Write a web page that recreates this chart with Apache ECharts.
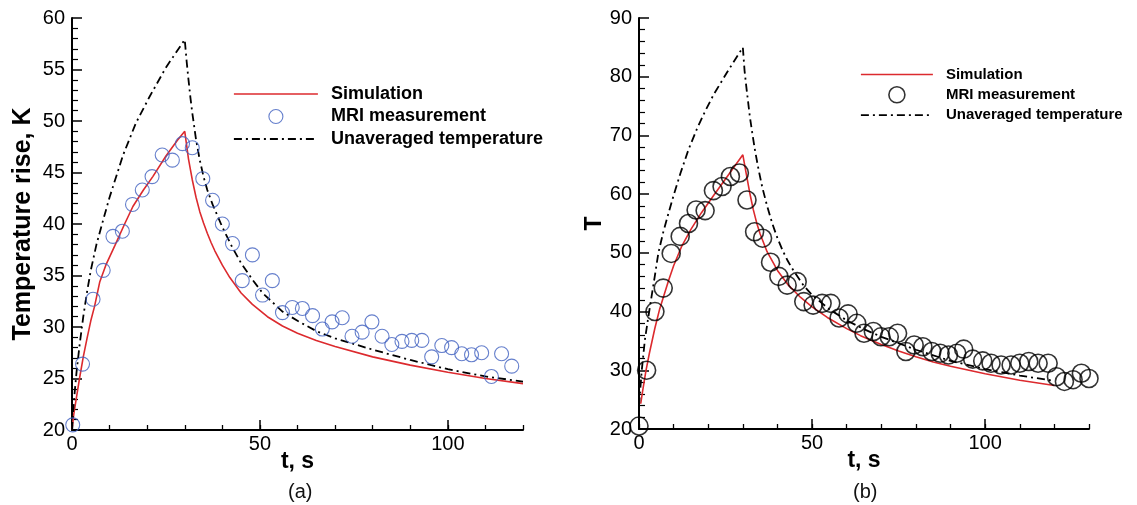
<!DOCTYPE html>
<html>
<head>
<meta charset="utf-8">
<script src="https://cdn.jsdelivr.net/npm/echarts@6/dist/echarts.min.js"></script>
<style>
  html, body { margin: 0; padding: 0; background: #fff; }
  #chart { width: 1137px; height: 505px; }
</style>
</head>
<body>
<div id="chart"></div>
<script>
// ---- Panel (a): temperature rise, K ----
const simulationA = [
  [0, 20], [0.5, 21.6], [1.2, 23.2], [2, 25], [3, 27.1], [4, 28.9], [5, 30.6], [6, 32], [7.4, 34.4],
  [9, 36], [11.4, 37.9], [14, 40], [16.2, 41.7], [19, 43.3], [21.5, 44.6], [25, 46.6], [28, 48.1], [30, 49],
  [31, 46.3], [32, 44.3], [33, 42.6], [34, 41.2], [35, 40.1], [36, 39.1], [37, 38.2], [38, 37.4], [40, 36.0],
  [42, 34.8], [45, 33.3], [48, 32.2], [52, 31.0], [56, 30.1], [60, 29.4], [65, 28.7], [70, 28.1], [80, 27.1],
  [90, 26.3], [100, 25.6], [110, 25.0], [120, 24.5]
];
const unaveragedA = [
  [0, 20], [0.3, 21.8], [0.7, 23.6], [1.2, 25.6], [2, 28.2], [3, 31], [4, 33.4], [5, 35.5], [6.5, 38],
  [8, 40], [10, 42.6], [13.6, 46.7], [17, 49.8], [20.7, 52.4], [25, 55.2], [30, 57.9],
  [30.5, 55.8], [31, 54], [31.5, 52.3], [32, 50.8], [33, 48.2], [34, 46.2], [35, 44.6], [36, 43.3],
  [37.4, 41.9], [40, 39.7], [42.7, 37.7], [45, 36.2], [48, 34.6], [50.7, 33.3], [56, 31.5], [60, 30.6],
  [65, 29.6], [70, 28.9], [80, 27.8], [90, 26.8], [100, 25.9], [110, 25.2], [120, 24.7]
];
const mriA = [
  [0.2, 20.5], [2.8, 26.4], [5.6, 32.7], [8.3, 35.5], [10.9, 38.8], [13.4, 39.3], [16.1, 41.9], [18.7, 43.3],
  [21.3, 44.6], [24.0, 46.7], [26.7, 46.2], [29.4, 47.8], [32.0, 47.4], [34.8, 44.4], [37.4, 42.3], [40.0, 40.0],
  [42.7, 38.1], [45.3, 34.5], [48.0, 37.0], [50.7, 33.1], [53.3, 34.5], [56.0, 31.4], [58.6, 31.9], [61.3, 31.8],
  [64.0, 31.1], [66.6, 29.8], [69.2, 30.5], [71.9, 30.9], [74.5, 29.1], [77.2, 29.5], [79.8, 30.5], [82.5, 29.1],
  [85.1, 28.3], [87.8, 28.6], [90.4, 28.7], [93.1, 28.7], [95.7, 27.1], [98.4, 28.2], [101.0, 28.0], [103.7, 27.4],
  [106.3, 27.3], [109.0, 27.5], [111.6, 25.2], [114.3, 27.4], [117.0, 26.2]
];

// ---- Panel (b): T ----
const simulationB = [
  [0.5, 24.3], [1, 26.3], [2, 29.9], [3, 32.9], [4.6, 37.2], [6, 40.5], [8.5, 45.2], [10, 47.8], [12.4, 51.2],
  [15, 54], [18, 56.8], [21.6, 59.8], [25.5, 63], [30, 66.7],
  [31, 63.4], [32, 60.2], [33, 57.4], [34, 55.1], [35, 53.2], [37, 50.2], [40, 47.0], [43, 44.6], [46.7, 42.4],
  [50, 40.8], [54.4, 39], [60, 37.1], [64, 35.9], [70, 34.4], [75, 33.3], [80, 32.3], [85, 31.4], [90, 30.7],
  [100, 29.4], [110, 28.3], [120, 27.4]
];
const unaveragedB = [
  [0, 24], [0.4, 27], [0.8, 30], [1.7, 35.2], [3.2, 41], [4.5, 45.8], [5.6, 50], [7, 53.5], [8.5, 56.7],
  [10, 59.8], [12, 63.6], [14.3, 67.6], [16.8, 71.2], [19, 74], [21.6, 77], [25.5, 80.8], [30, 85],
  [30.5, 81], [31, 78.3], [31.5, 75.8], [32, 73.3], [32.7, 70.5], [33.5, 67.5], [34.5, 64.3], [35.6, 61.2],
  [37, 58], [38.5, 55], [40, 52.5], [41.5, 50.4], [43, 48.6], [44.7, 46.9], [47.6, 44.4], [50, 42.8],
  [55, 40.4], [60, 38.5], [65, 37], [70, 35.7], [80, 33.5], [90, 31.6], [100, 30.2], [110, 29.1], [120, 28.2]
];
const mriB = [
  [0, 20.5], [2.2, 30.0], [4.6, 40.0], [7.0, 44.0], [9.3, 49.9], [11.9, 52.8], [14.3, 55.0], [16.5, 57.3],
  [19.1, 57.2], [21.5, 60.6], [24.0, 61.3], [26.4, 63.0], [29.0, 63.6], [31.2, 59.0], [33.4, 53.6], [35.7, 52.5],
  [38.0, 48.4], [40.4, 46.0], [42.8, 44.5], [45.7, 45.1], [47.6, 41.7], [50.3, 41.1], [52.9, 41.4], [55.4, 41.4],
  [57.8, 38.9], [60.4, 39.6], [62.9, 38.0], [65.0, 36.3], [67.7, 36.6], [69.9, 35.7], [72.3, 35.7], [74.7, 36.3],
  [77.1, 33.2], [79.5, 34.3], [82.0, 34.0], [84.6, 33.2], [87.0, 32.9], [89.4, 32.6], [91.8, 32.9], [93.8, 33.6],
  [96.4, 31.9], [99.3, 31.6], [101.7, 31.2], [104.6, 30.9], [107.5, 30.9], [110.0, 31.2], [112.6, 31.5],
  [115.3, 31.2], [118.2, 31.2], [120.6, 28.9], [122.9, 28.1], [125.4, 28.4], [127.8, 29.5], [130.0, 28.6]
];

// ---- axis ticks ----
const majorTicksX = [0, 50, 100];
const minorStepX = 10;
const rangeA = { xMax: 120, yMin: 20, yMax: 60, yStep: 5 };
const rangeB = { xMax: 130, yMin: 20, yMax: 90, yStep: 10 };

const seriesNames = ['Simulation', 'MRI measurement', 'Unaveraged temperature'];

const RED = '#dc2a2e';
const BLUE = '#3f5fbf';
const FONT = '"Liberation Sans", Arial, Helvetica, sans-serif';
const DASH_DOT = [8, 4, 2, 4];

const gridA = { left: 72, top: 18, width: 451, height: 412 };
const gridB = { left: 639, top: 18, width: 450, height: 411 };

function mainX(gridIndex, max) {
  return {
    gridIndex, type: 'value', min: 0, max, interval: 50,
    axisLine: { show: true, lineStyle: { color: '#000', width: 2 } },
    axisTick: { show: true, inside: true, length: 10, customValues: majorTicksX, lineStyle: { color: '#000', width: 1.5 } },
    axisLabel: { customValues: majorTicksX, fontSize: 20, color: '#000', margin: 4, fontFamily: FONT },
    splitLine: { show: false },
    name: 't, s', nameLocation: 'middle', nameGap: 20, nameMoveOverlap: false,
    nameTextStyle: { fontSize: 23, fontWeight: 'bold', color: '#000', fontFamily: FONT }
  };
}
function minorX(gridIndex, max) {
  return {
    gridIndex, type: 'value', min: 0, max, interval: minorStepX,
    axisLine: { show: false },
    axisTick: { show: true, inside: true, length: 5, lineStyle: { color: '#000', width: 1.3 } },
    axisLabel: { show: false },
    splitLine: { show: false }
  };
}
function mainY(gridIndex, r, name, nameGap) {
  return {
    gridIndex, type: 'value', min: r.yMin, max: r.yMax, interval: r.yStep,
    axisLine: { show: true, lineStyle: { color: '#000', width: 2 } },
    axisTick: { show: true, inside: true, length: 10, lineStyle: { color: '#000', width: 1.5 } },
    minorTick: { show: true, splitNumber: 5, length: 6, lineStyle: { color: '#000', width: 1.2 } },
    axisLabel: { fontSize: 20, color: '#000', margin: 7, fontFamily: FONT },
    splitLine: { show: false }, minorSplitLine: { show: false },
    name, nameLocation: 'middle', nameRotate: 90, nameGap,
    nameTextStyle: { fontSize: name === 'T' ? 23 : 25, fontWeight: 'bold', color: '#000', fontFamily: FONT }
  };
}
function hiddenY(gridIndex, r) {
  return { gridIndex, type: 'value', min: r.yMin, max: r.yMax, show: false };
}

function panelSeries(xi, yi, sim, mri, unav, mriColor, mriSize, mriWidth) {
  return [
    {
      name: seriesNames[0], type: 'line', xAxisIndex: xi, yAxisIndex: yi, data: sim,
      symbol: 'none', lineStyle: { color: RED, width: 1.6 }, itemStyle: { color: RED }, z: 3
    },
    {
      name: seriesNames[1], type: 'scatter', xAxisIndex: xi, yAxisIndex: yi, data: mri,
      symbol: 'circle', symbolSize: mriSize, clip: false,
      itemStyle: { color: 'rgba(0,0,0,0)', borderColor: mriColor, borderWidth: mriWidth }, z: 4
    },
    {
      name: seriesNames[2], type: 'line', xAxisIndex: xi, yAxisIndex: yi, data: unav,
      symbol: 'none', lineStyle: { color: '#000', width: 1.8, type: DASH_DOT }, itemStyle: { color: '#000' }, z: 3
    }
  ];
}

function legendFor(left, top, itemWidth, itemHeight, itemGap, fontSize, circleColor, circleWidth) {
  return {
    orient: 'vertical', left, top, padding: 0, itemWidth, itemHeight, itemGap,
    selectedMode: false,
    textStyle: { fontSize, fontWeight: 'bold', color: '#000', fontFamily: FONT, padding: [0, 0, 0, 8] },
    data: [
      { name: seriesNames[0], lineStyle: { color: RED, width: 1.6 }, itemStyle: { opacity: 0 } },
      { name: seriesNames[1], icon: 'circle', itemStyle: { color: 'rgba(0,0,0,0)', borderColor: circleColor, borderWidth: circleWidth } },
      { name: seriesNames[2], lineStyle: { color: '#000', width: 1.8, type: DASH_DOT }, itemStyle: { opacity: 0 } }
    ]
  };
}

const chart = echarts.init(document.getElementById('chart'), null, { renderer: 'canvas' });
chart.setOption({
  animation: false,
  backgroundColor: '#fff',
  textStyle: { fontFamily: FONT },
  grid: [
    Object.assign({}, gridA), Object.assign({}, gridB),
    Object.assign({}, gridA), Object.assign({}, gridB)
  ],
  xAxis: [mainX(0, rangeA.xMax), mainX(1, rangeB.xMax), minorX(2, rangeA.xMax), minorX(3, rangeB.xMax)],
  yAxis: [mainY(0, rangeA, 'Temperature rise, K', 36), mainY(1, rangeB, 'T', 32), hiddenY(2, rangeA), hiddenY(3, rangeB)],
  legend: [
    legendFor(233, 85, 84, 14, 4.5, 18, BLUE, 1.1),
    legendFor(860, 67, 72, 16, 4, 15, '#000', 1.6)
  ],
  graphic: [
    { type: 'text', left: 288, top: 482, style: { text: '(a)', fontSize: 20, fill: '#111', fontFamily: FONT } },
    { type: 'text', left: 853, top: 482, style: { text: '(b)', fontSize: 20, fill: '#111', fontFamily: FONT } }
  ],
  series: [].concat(
    panelSeries(0, 0, simulationA, mriA, unaveragedA, BLUE, 14, 1.1),
    panelSeries(1, 1, simulationB, mriB, unaveragedB, '#000', 18, 1.6)
  )
});
</script>
</body>
</html>
